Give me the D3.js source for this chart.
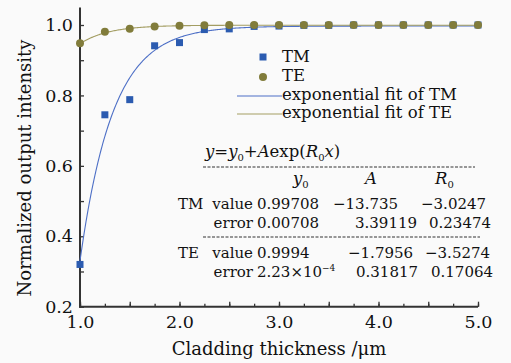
<!DOCTYPE html>
<html>
<head>
<meta charset="utf-8">
<script src="https://cdn.jsdelivr.net/npm/d3@7"></script>
<style>
  body { margin: 0; background: #fafafa; }
  svg { display: block; font-family: "DejaVu Serif", serif; }
</style>
</head>
<body>
<svg id="chart" width="511" height="363"></svg>
<script>
// thickness (um)
const thickness = [1.0, 1.25, 1.5, 1.75, 2.0, 2.25, 2.5, 2.75, 3.0, 3.25, 3.5, 3.75, 4.0, 4.25, 4.5, 4.75, 5.0];
const tmValues = [0.32, 0.745, 0.788, 0.941, 0.95, 0.987, 0.989, 0.996, 0.997, 0.999, 0.999, 1.0, 1.0, 1.0, 1.0, 1.0, 1.0];
const teValues = [0.948, 0.981, 0.989, 0.996, 0.998, 0.999, 1.0, 1.0, 1.0, 1.0, 1.0, 1.0, 1.0, 1.0, 1.0, 1.0, 1.0];

// fit parameters y0, A, R0 as printed in the chart
const tmFit = [0.99708, -13.735, -3.0247];
const teFit = [0.9994, -1.7956, -3.5274];
const tmErr = ['0.00708', '3.39119', '0.23474'];
const teErr = ['2.23\u00d710', '0.31817', '0.17064'];
const tmVal = ['0.99708', '\u221213.735', '\u22123.0247'];
const teVal = ['0.9994', '\u22121.7956', '\u22123.5274'];

const xTicks = [1.0, 2.0, 3.0, 4.0, 5.0];
const yTicks = [0.2, 0.4, 0.6, 0.8, 1.0];
const legendLabels = ['TM', 'TE', 'exponential fit of TM', 'exponential fit of TE'];

const TM_COLOR = '#2b5bb0';
const TE_COLOR = '#817c3b';
const TM_LINE = '#4d6fc6';
const TE_LINE = '#a39d62';
const AXIS = '#333';

const svg = d3.select('#chart');

const x = d3.scaleLinear().domain([1, 5]).range([80, 478]);
const y = d3.scaleLinear().domain([0.2, 1.0]).range([306.7, 25]);

// axes
const axisG = svg.append('g').attr('class', 'axes');

axisG.append('g')
  .attr('transform', `translate(0,${y(0.2)})`)
  .call(d3.axisBottom(x).tickValues(d3.range(1, 5.01, 0.25)).tickSize(-3).tickFormat(''))
  .call(g => g.select('.domain').remove());

axisG.append('g')
  .attr('transform', `translate(0,${y(0.2)})`)
  .call(d3.axisBottom(x).tickValues(d3.range(1, 5.01, 0.5)).tickSize(-5).tickFormat(''))
  .call(g => g.select('.domain').remove());

axisG.append('g')
  .attr('transform', `translate(0,${y(0.2)})`)
  .call(d3.axisBottom(x).tickValues(xTicks).tickSize(0).tickPadding(9).tickFormat(d3.format('.1f')))
  .call(g => g.select('.domain').remove())
  .selectAll('text')
  .attr('font-size', 17.5)
  .attr('font-family', '"DejaVu Serif", serif')
  .attr('fill', '#111');

axisG.append('g')
  .attr('transform', `translate(${x(1)},0)`)
  .call(d3.axisLeft(y).tickValues(d3.range(0.2, 1.001, 0.1)).tickSize(-4).tickFormat(''))
  .call(g => g.select('.domain').remove());

axisG.append('g')
  .attr('transform', `translate(${x(1)},0)`)
  .call(d3.axisLeft(y).tickValues(yTicks).tickSize(0).tickPadding(7).tickFormat(d3.format('.1f')))
  .call(g => g.select('.domain').remove())
  .selectAll('text')
  .attr('font-size', 17.5)
  .attr('font-family', '"DejaVu Serif", serif')
  .attr('fill', '#111');

axisG.selectAll('.tick line').attr('stroke', AXIS).attr('stroke-width', 1.3);

// axis lines
axisG.append('line')
  .attr('x1', x(1)).attr('x2', x(1))
  .attr('y1', y(0.2) + 1).attr('y2', y(1.05))
  .attr('stroke', AXIS).attr('stroke-width', 2);
axisG.append('line')
  .attr('x1', x(1) - 1).attr('x2', x(5))
  .attr('y1', y(0.2)).attr('y2', y(0.2))
  .attr('stroke', AXIS).attr('stroke-width', 2);

// axis titles
svg.append('text')
  .attr('x', (x(1) + x(5)) / 2).attr('y', 355)
  .attr('text-anchor', 'middle')
  .attr('font-size', 18).attr('fill', '#111')
  .text('Cladding thickness /\u03bcm');

svg.append('text')
  .attr('transform', 'translate(31,168) rotate(-90)')
  .attr('text-anchor', 'middle')
  .attr('font-size', 18).attr('fill', '#111')
  .text('Normalized output intensity');

// fit curves, from the printed parameters
const fitLine = (p) => d3.line()
  .x(d => x(d))
  .y(d => y(p[0] + p[1] * Math.exp(p[2] * d)));
const xs = d3.range(1, 5.001, 0.01);

svg.append('path')
  .attr('d', fitLine(tmFit)(xs))
  .attr('fill', 'none').attr('stroke', TM_LINE).attr('stroke-width', 1.1);
svg.append('path')
  .attr('d', fitLine(teFit)(xs))
  .attr('fill', 'none').attr('stroke', TE_LINE).attr('stroke-width', 1.1);

// markers
svg.append('g').selectAll('rect')
  .data(thickness)
  .enter()
  .append('rect')
  .attr('x', d => x(d) - 3.5)
  .attr('y', (d, i) => y(tmValues[i]) - 3.5)
  .attr('width', 7).attr('height', 7)
  .attr('fill', TM_COLOR);

svg.append('g').selectAll('circle')
  .data(thickness)
  .enter()
  .append('circle')
  .attr('cx', d => x(d))
  .attr('cy', (d, i) => y(teValues[i]))
  .attr('r', 4)
  .attr('fill', TE_COLOR);

// legend
const legend = svg.append('g').attr('font-size', 16.5).attr('fill', '#111');
const rowY = [62, 81, 100, 118];
legend.append('rect').attr('x', 259.5).attr('y', 53.5).attr('width', 7).attr('height', 7).attr('fill', TM_COLOR);
legend.append('circle').attr('cx', 263).attr('cy', 77).attr('r', 4).attr('fill', TE_COLOR);
legend.append('line').attr('x1', 237).attr('x2', 282).attr('y1', 96).attr('y2', 96).attr('stroke', TM_LINE).attr('stroke-width', 1.1);
legend.append('line').attr('x1', 237).attr('x2', 282).attr('y1', 114).attr('y2', 114).attr('stroke', TE_LINE).attr('stroke-width', 1.1);
legend.selectAll('text')
  .data(legendLabels)
  .enter()
  .append('text')
  .attr('x', 282)
  .attr('y', (d, i) => rowY[i])
  .text(d => d);

// fit table
const table = svg.append('g').attr('font-size', 15).attr('fill', '#111');

const formula = table.append('text').attr('x', 205).attr('y', 157).attr('font-size', 16.5);
formula.append('tspan').attr('font-style', 'italic').text('y');
formula.append('tspan').text('=');
formula.append('tspan').attr('font-style', 'italic').text('y');
formula.append('tspan').attr('font-size', 10).attr('dy', 4).text('0');
formula.append('tspan').attr('dy', -4).text('+');
formula.append('tspan').attr('font-style', 'italic').text('A');
formula.append('tspan').text('exp(');
formula.append('tspan').attr('font-style', 'italic').text('R');
formula.append('tspan').attr('font-size', 10).attr('dy', 4).text('0');
formula.append('tspan').attr('font-style', 'italic').attr('dy', -4).text('x');
formula.append('tspan').text(')');

table.append('line')
  .attr('x1', 203).attr('x2', 475).attr('y1', 167).attr('y2', 167)
  .attr('stroke', AXIS).attr('stroke-width', 1).attr('stroke-dasharray', '3,1.5');
table.append('line')
  .attr('x1', 203).attr('x2', 480).attr('y1', 237).attr('y2', 237)
  .attr('stroke', AXIS).attr('stroke-width', 1).attr('stroke-dasharray', '3,1.5');

// header
const headX = [293, 365, 435];
const headers = [['y', '0'], ['A', ''], ['R', '0']];
headers.forEach((h, i) => {
  const t = table.append('text').attr('x', headX[i]).attr('y', 184).attr('font-size', 16.5);
  t.append('tspan').attr('font-style', 'italic').text(h[0]);
  if (h[1]) t.append('tspan').attr('font-size', 10).attr('dy', 4).text(h[1]);
});

// rows
const rows = [
  { name: 'TM', kind: 'value', cells: tmVal, y: 209 },
  { name: '', kind: 'error', cells: tmErr, y: 228 },
  { name: 'TE', kind: 'value', cells: teVal, y: 258 },
  { name: '', kind: 'error', cells: teErr, y: 277 },
];
const cellX = [
  [257, 333, 421],
  [257, 355, 429],
  [257, 348, 425],
  [257, 356, 431],
];
rows.forEach((r, ri) => {
  if (r.name) table.append('text').attr('x', 178).attr('y', r.y).text(r.name);
  table.append('text').attr('x', 253).attr('y', r.y).attr('text-anchor', 'end').text(r.kind);
  r.cells.forEach((c, ci) => {
    const t = table.append('text').attr('x', cellX[ri][ci]).attr('y', r.y).text(c);
    if (ri === 3 && ci === 0) {
      t.append('tspan').attr('font-size', 9).attr('dy', -6).text('\u22124');
    }
  });
});
</script>
</body>
</html>
